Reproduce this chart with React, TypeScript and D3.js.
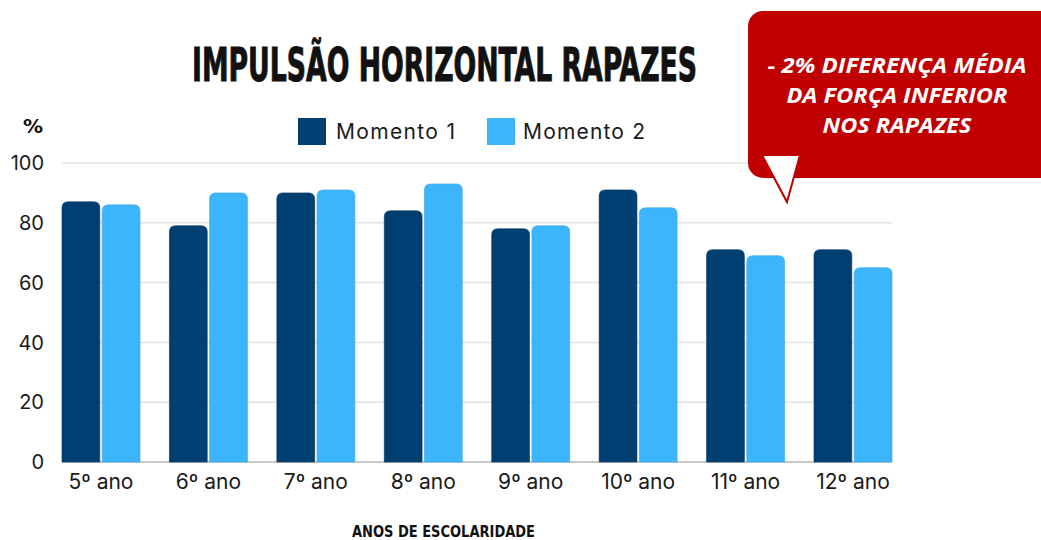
import React from "react";
import * as d3 from "d3";

const categories = ["5º ano", "6º ano", "7º ano", "8º ano", "9º ano", "10º ano", "11º ano", "12º ano"];
const momento1 = [87, 79, 90, 84, 78, 91, 71, 71];
const momento2 = [86, 90, 91, 93, 79, 85, 69, 65];
const seriesNames = ["Momento 1", "Momento 2"];
const yTicks = [0, 20, 40, 60, 80, 100];
const calloutLines = ["- 2% DIFERENÇA MÉDIA", "DA FORÇA INFERIOR", "NOS RAPAZES"];
const calloutWidths = [259, 221, 149];

const W = 1041, H = 540;
const colors = ["#003f72", "#3db5fd"];
const labelFont = "Inter, 'Noto Sans', sans-serif";

function topRounded(x: number, y: number, w: number, h: number, r: number) {
  const rr = Math.min(r, w / 2, h);
  return `M${x},${y + h}V${y + rr}Q${x},${y} ${x + rr},${y}H${x + w - rr}Q${x + w},${y} ${x + w},${y + rr}V${y + h}Z`;
}

export default function App() {
  const x0 = d3.scaleBand<string>().domain(categories).range([62, 892]).paddingInner(0.274).paddingOuter(0).align(0);
  const x1 = d3.scaleBand<string>().domain(seriesNames).range([0, x0.bandwidth()]).paddingInner(0.06);
  const y = d3.scaleLinear().domain([0, 100]).range([462, 163]);
  const data = [momento1, momento2];

  return (
    <svg width={W} height={H} style={{ position: "absolute", left: 0, top: 0, background: "#fff" }}>
      <rect width={W} height={H} fill="#fff" />
      {/* gridlines */}
      {yTicks.map((t) => (
        <line key={t} x1={62} x2={892} y1={y(t)} y2={y(t)} stroke={t === 0 ? "#c8c8c8" : "#e3e3e3"} strokeWidth={t === 0 ? 2 : 1.5} />
      ))}
      {yTicks.map((t) => (
        <text key={"l" + t} x={44} y={y(t)} dy="0.36em" textAnchor="end" fontFamily={labelFont} fontSize={20} fill="#1a1a1a">{t}</text>
      ))}
      <text x={33} y={133} textAnchor="middle" fontFamily="'DejaVu Sans', sans-serif" fontWeight="bold" fontSize={20} fill="#111">%</text>
      {/* bars */}
      {categories.map((c, i) => (
        <g key={c} transform={`translate(${x0(c)},0)`}>
          {seriesNames.map((s, j) => {
            const v = data[j][i];
            return (
              <path key={s} d={topRounded(x1(s)!, y(v), x1.bandwidth(), y(0) - y(v), 6)} fill={colors[j]} stroke={j === 0 ? "#00325c" : "#36a6ea"} strokeWidth={0.6} />
            );
          })}
          <text x={x0.bandwidth() / 2} y={489} textAnchor="middle" fontFamily={labelFont} fontSize={21} fill="#1a1a1a">{c}</text>
        </g>
      ))}
      {/* legend */}
      <rect x={298} y={118} width={28} height={27} fill={colors[0]} />
      <text x={336} y={131} dy="0.36em" fontFamily={labelFont} fontSize={21} textLength={119} lengthAdjust="spacing" fill="#1a1a1a">{seriesNames[0]}</text>
      <rect x={487} y={118} width={28} height={27} fill={colors[1]} />
      <text x={523} y={131} dy="0.36em" fontFamily={labelFont} fontSize={21} textLength={122} lengthAdjust="spacing" fill="#1a1a1a">{seriesNames[1]}</text>
      {/* title */}
      <text x={192} y={81} textLength={505} lengthAdjust="spacingAndGlyphs" fontFamily="'DejaVu Sans Condensed', 'Liberation Sans Narrow', sans-serif" fontWeight="bold" fontSize={47} fill="#111" stroke="#111" strokeWidth={1}>IMPULSÃO HORIZONTAL RAPAZES</text>
      {/* x axis title */}
      <text x={352} y={537} textLength={183} lengthAdjust="spacingAndGlyphs" fontFamily="'DejaVu Sans Condensed', sans-serif" fontWeight="bold" fontSize={16} fill="#111">ANOS DE ESCOLARIDADE</text>
      {/* callout */}
      <rect x={748} y={11} width={310} height={167} rx={15} fill="#c00000" />
      <path d="M762,155L800,155L787,202Z" fill="#fff" stroke="#c00000" strokeWidth={2} />
      {calloutLines.map((l, i) => (
        <text key={l} x={897 - calloutWidths[i] / 2} y={73 + i * 30} textLength={calloutWidths[i]} lengthAdjust="spacingAndGlyphs" fontFamily="'Open Sans', sans-serif" fontStyle="italic" fontWeight="bold" fontSize={20.5} fill="#fff">{l}</text>
      ))}
    </svg>
  );
}
